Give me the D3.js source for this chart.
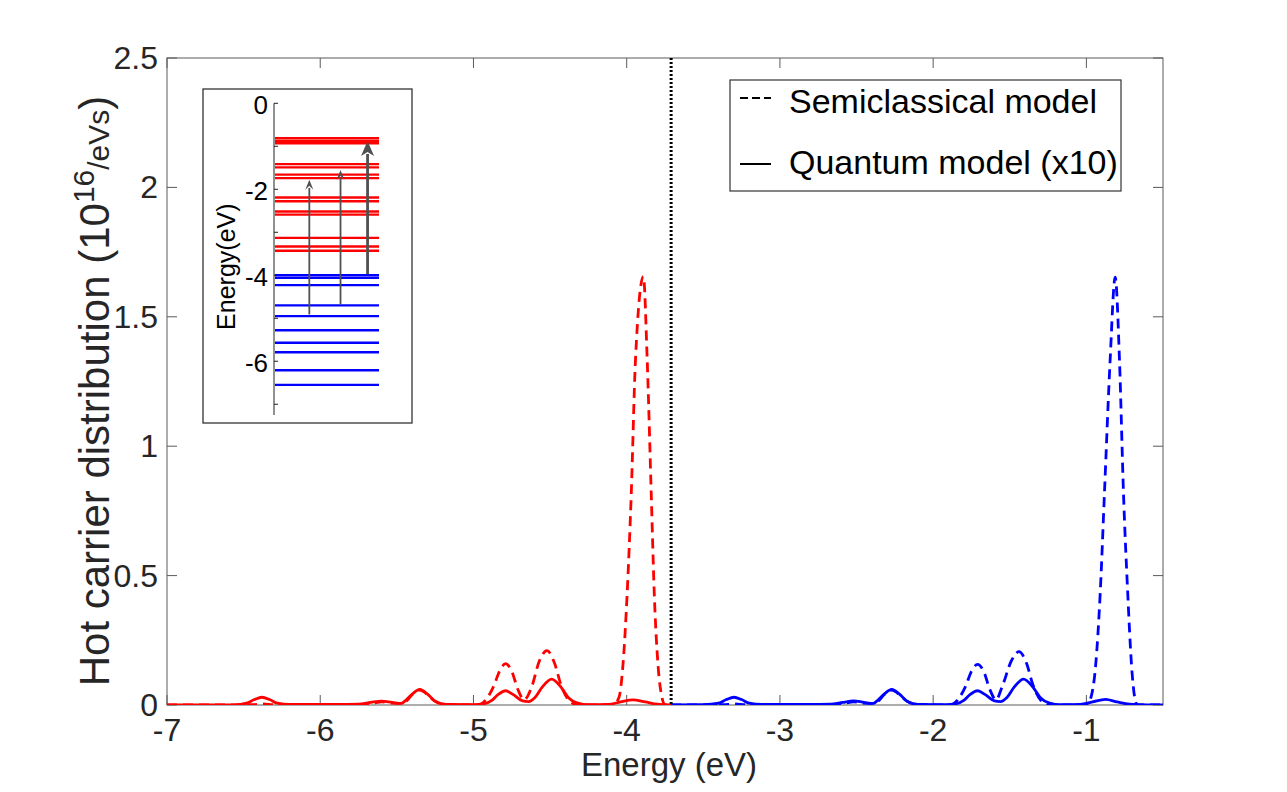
<!DOCTYPE html>
<html>
<head>
<meta charset="utf-8">
<script src="https://cdn.jsdelivr.net/npm/d3@7"></script>
<style>
  body { margin: 0; background: #fff; }
  text { font-family: Arial, "Liberation Sans", Helvetica, sans-serif; fill: #262626; }
</style>
</head>
<body>
<svg id="chart" width="1287" height="792"></svg>
<script>

// Main axis ticks
var xTicks = [-7, -6, -5, -4, -3, -2, -1];
var yTicks = [0, 0.5, 1, 1.5, 2, 2.5];
var fermiLevel = -3.71;

// Hot holes (red), [energy eV, value]
var redSemi = [
  [-7, 0], [-6.45, 0.001], [-6.38, 0.004], [-6.30, 0.001], [-5.72, 0.001],
  [-5.65, 0.008], [-5.60, 0.012], [-5.55, 0.008], [-5.47, 0.006],
  [-5.44, 0.014], [-5.40, 0.040], [-5.35, 0.058], [-5.30, 0.040], [-5.25, 0.014], [-5.18, 0.002],
  [-4.97, 0], [-4.92, 0.02], [-4.87, 0.07], [-4.83, 0.13], [-4.79, 0.16], [-4.75, 0.13],
  [-4.71, 0.06], [-4.67, 0.02], [-4.62, 0.07], [-4.57, 0.17], [-4.52, 0.21], [-4.47, 0.16],
  [-4.43, 0.08], [-4.38, 0.02], [-4.32, 0],
  [-4.09, 0], [-4.05, 0.03], [-4.025, 0.15], [-3.997, 0.43], [-3.97, 0.82], [-3.943, 1.33],
  [-3.891, 1.655], [-3.866, 1.33], [-3.84, 0.82], [-3.82, 0.43], [-3.795, 0.15], [-3.77, 0.03],
  [-3.75, 0], [-3.71, 0]
];
var redQuant = [
  [-7, 0], [-6.56, 0], [-6.48, 0.007], [-6.43, 0.021], [-6.38, 0.030], [-6.33, 0.021],
  [-6.28, 0.007], [-6.20, 0.002], [-5.90, 0.002], [-5.75, 0.003], [-5.67, 0.010],
  [-5.60, 0.015], [-5.53, 0.010], [-5.47, 0.006], [-5.45, 0.014], [-5.40, 0.042],
  [-5.35, 0.060], [-5.30, 0.042], [-5.25, 0.015], [-5.18, 0.002], [-5.00, 0.001],
  [-4.93, 0.005], [-4.88, 0.018], [-4.84, 0.040], [-4.79, 0.055], [-4.74, 0.040],
  [-4.68, 0.016], [-4.64, 0.013], [-4.60, 0.028], [-4.55, 0.070], [-4.49, 0.100],
  [-4.43, 0.070], [-4.38, 0.028], [-4.32, 0.007], [-4.25, 0.001], [-4.12, 0.002],
  [-4.04, 0.012], [-3.96, 0.020], [-3.88, 0.012], [-3.80, 0.003], [-3.71, 0]
];

// Hot electrons (blue)
var blueSemi = [
  [-3.71, 0], [-3.37, 0.001], [-3.30, 0.004], [-3.22, 0.001], [-2.64, 0.001],
  [-2.57, 0.008], [-2.52, 0.012], [-2.47, 0.008], [-2.39, 0.006],
  [-2.36, 0.014], [-2.32, 0.040], [-2.27, 0.058], [-2.22, 0.040], [-2.17, 0.014], [-2.10, 0.002],
  [-1.89, 0], [-1.84, 0.02], [-1.79, 0.07], [-1.75, 0.13], [-1.71, 0.157], [-1.67, 0.13],
  [-1.63, 0.06], [-1.59, 0.02], [-1.55, 0.07], [-1.49, 0.17], [-1.44, 0.206], [-1.39, 0.16],
  [-1.35, 0.08], [-1.30, 0.02], [-1.24, 0],
  [-1.00, 0], [-0.97, 0.03], [-0.94, 0.15], [-0.91, 0.43], [-0.882, 0.82], [-0.845, 1.333],
  [-0.812, 1.653], [-0.784, 1.333], [-0.758, 0.82], [-0.73, 0.43], [-0.705, 0.15], [-0.685, 0.03],
  [-0.667, 0], [-0.5, 0]
];
var blueQuant = [
  [-3.71, 0], [-3.50, 0.001], [-3.40, 0.007], [-3.35, 0.021], [-3.30, 0.030], [-3.25, 0.021],
  [-3.20, 0.007], [-3.12, 0.002], [-2.82, 0.002], [-2.67, 0.003], [-2.59, 0.010],
  [-2.52, 0.016], [-2.45, 0.010], [-2.39, 0.006], [-2.37, 0.014], [-2.32, 0.042],
  [-2.27, 0.060], [-2.22, 0.042], [-2.17, 0.015], [-2.10, 0.002], [-1.92, 0.001],
  [-1.85, 0.005], [-1.80, 0.018], [-1.76, 0.040], [-1.71, 0.055], [-1.66, 0.040],
  [-1.60, 0.016], [-1.56, 0.013], [-1.52, 0.028], [-1.47, 0.070], [-1.41, 0.100],
  [-1.35, 0.070], [-1.30, 0.028], [-1.24, 0.007], [-1.17, 0.001], [-1.04, 0.002],
  [-0.96, 0.012], [-0.875, 0.022], [-0.80, 0.012], [-0.72, 0.003], [-0.60, 0], [-0.5, 0]
];

// Inset: energy levels (eV)
var insetTicks = [0, -1, -2, -3, -4, -5, -6, -7];
var insetLabels = [0, -2, -4, -6];
var redLevels = [-0.81, -0.87, -0.93, -1.415, -1.49, -1.66, -1.74, -2.19, -2.28,
                 -2.515, -2.59, -3.13, -3.33, -3.43];
var blueLevels = [-4.0, -4.06, -4.23, -4.70, -4.95, -5.28, -5.57, -5.79, -6.21, -6.55];
var arrowFrom = [-4.91, -4.68, -3.97];
var arrowTo   = [-1.78, -1.55, -0.875];
var arrowPos  = [0.33, 0.63, 0.89];

var svg = d3.select('#chart');
var margin = {left: 167, right: 1163, top: 58, bottom: 705};

var x = d3.scaleLinear().domain([-7, -0.5]).range([margin.left, margin.right]);
var y = d3.scaleLinear().domain([0, 2.5]).range([margin.bottom, margin.top]);

svg.append('defs').append('clipPath').attr('id', 'plotclip')
  .append('rect')
  .attr('x', margin.left).attr('y', margin.top)
  .attr('width', margin.right - margin.left).attr('height', margin.bottom - margin.top);

// Box and inward ticks on all four sides
var axisColor = '#5a5a5a';
var tickLen = 10;
svg.append('rect')
  .attr('x', margin.left).attr('y', margin.top)
  .attr('width', margin.right - margin.left).attr('height', margin.bottom - margin.top)
  .attr('fill', 'none').attr('stroke', axisColor).attr('stroke-width', 1);

xTicks.forEach(function(t){
  svg.append('line').attr('x1', x(t)).attr('x2', x(t))
    .attr('y1', margin.bottom).attr('y2', margin.bottom - tickLen)
    .attr('stroke', axisColor);
  svg.append('line').attr('x1', x(t)).attr('x2', x(t))
    .attr('y1', margin.top).attr('y2', margin.top + tickLen)
    .attr('stroke', axisColor);
  svg.append('text').attr('x', x(t)).attr('y', 741)
    .attr('text-anchor', 'middle').attr('font-size', 32).text(t);
});

yTicks.forEach(function(t){
  svg.append('line').attr('x1', margin.left).attr('x2', margin.left + tickLen)
    .attr('y1', y(t)).attr('y2', y(t)).attr('stroke', axisColor);
  svg.append('line').attr('x1', margin.right).attr('x2', margin.right - tickLen)
    .attr('y1', y(t)).attr('y2', y(t)).attr('stroke', axisColor);
  svg.append('text').attr('x', 158).attr('y', y(t) + 11)
    .attr('text-anchor', 'end').attr('font-size', 32).text(t);
});

// Axis labels
svg.append('text').attr('x', (margin.left + margin.right) / 2 + 4).attr('y', 776)
  .attr('text-anchor', 'middle').attr('font-size', 33).text('Energy (eV)');

var ylab = svg.append('text')
  .attr('transform', 'translate(109,391) rotate(-90)')
  .attr('text-anchor', 'middle').attr('font-size', 42);
ylab.append('tspan').text('Hot carrier distribution (10');
ylab.append('tspan').attr('font-size', 30).attr('dy', -15).text('16');
ylab.append('tspan').attr('font-size', 30).attr('dy', 15).text('/eVs');
ylab.append('tspan').text(')');

// Curves
var line = d3.line()
  .x(function(d){ return x(d[0]); })
  .y(function(d){ return y(d[1]); })
  .curve(d3.curveMonotoneX);

var plot = svg.append('g').attr('clip-path', 'url(#plotclip)');

var series = [
  {data: redSemi,   color: '#ff0000', dash: '10,6'},
  {data: blueSemi,  color: '#0000ff', dash: '10,6'},
  {data: redQuant,  color: '#ff0000', dash: null},
  {data: blueQuant, color: '#0000ff', dash: null}
];
series.forEach(function(s){
  plot.append('path').datum(s.data)
    .attr('d', line)
    .attr('fill', 'none')
    .attr('stroke', s.color)
    .attr('stroke-width', 2.8)
    .attr('stroke-dasharray', s.dash);
});

// Fermi level (dotted)
plot.append('line')
  .attr('x1', x(fermiLevel)).attr('x2', x(fermiLevel))
  .attr('y1', margin.top).attr('y2', margin.bottom)
  .attr('stroke', '#000').attr('stroke-width', 3)
  .attr('stroke-dasharray', '2,2');

// Legend
var leg = svg.append('g');
leg.append('rect').attr('x', 730).attr('y', 80).attr('width', 391).attr('height', 111)
  .attr('fill', '#fff').attr('stroke', '#333').attr('stroke-width', 1.2);
var legItems = [
  {label: 'Semiclassical model', dash: '8,4', ly: 98, ty: 113},
  {label: 'Quantum model (x10)', dash: null, ly: 164, ty: 174}
];
legItems.forEach(function(d){
  leg.append('line').attr('x1', 740).attr('x2', 771).attr('y1', d.ly).attr('y2', d.ly)
    .attr('stroke', '#000').attr('stroke-width', 2).attr('stroke-dasharray', d.dash);
  leg.append('text').attr('x', 789).attr('y', d.ty).attr('font-size', 34)
    .style('fill', '#000').text(d.label);
});

// Inset: energy level diagram
var inset = svg.append('g');
inset.append('rect').attr('x', 203).attr('y', 89).attr('width', 209).attr('height', 334)
  .attr('fill', '#fff').attr('stroke', '#333').attr('stroke-width', 1.3);

var iy = d3.scaleLinear().domain([-7.25, 0]).range([415, 103.3]);
var ix = d3.scaleLinear().domain([0, 1]).range([275, 379]);

inset.append('line').attr('x1', ix(0) - 1).attr('x2', ix(0) - 1)
  .attr('y1', iy(0)).attr('y2', iy(-7.25)).attr('stroke', '#222').attr('stroke-width', 1);
insetTicks.forEach(function(t){
  inset.append('line').attr('x1', ix(0) - 1).attr('x2', ix(0) + 3)
    .attr('y1', iy(t)).attr('y2', iy(t)).attr('stroke', '#222');
});
insetLabels.forEach(function(t){
  inset.append('text').attr('x', 268).attr('y', iy(t) + 11)
    .attr('text-anchor', 'end').attr('font-size', 26).style('fill', '#000').text(t);
});
inset.append('text')
  .attr('transform', 'translate(235,' + iy(-3.8) + ') rotate(-90)')
  .attr('text-anchor', 'middle').attr('font-size', 25).style('fill', '#000').text('Energy(eV)');

inset.selectAll('line.red').data(redLevels).enter().append('line')
  .attr('class', 'red')
  .attr('x1', ix(0)).attr('x2', ix(1))
  .attr('y1', function(d){ return iy(d); }).attr('y2', function(d){ return iy(d); })
  .attr('stroke', '#ff0000').attr('stroke-width', 2.4);
inset.selectAll('line.blue').data(blueLevels).enter().append('line')
  .attr('class', 'blue')
  .attr('x1', ix(0)).attr('x2', ix(1))
  .attr('y1', function(d){ return iy(d); }).attr('y2', function(d){ return iy(d); })
  .attr('stroke', '#0000ff').attr('stroke-width', 2.4);

// Excitation arrows
arrowPos.forEach(function(p, i){
  var big = i === 2;
  var hw = big ? 6.5 : 4, hl = big ? 15 : 10;
  var ax = ix(p), y0 = iy(arrowFrom[i]), y1 = iy(arrowTo[i]);
  inset.append('line').attr('x1', ax).attr('x2', ax)
    .attr('y1', y0).attr('y2', y1 + hl - 2)
    .attr('stroke', '#505050').attr('stroke-width', big ? 2.8 : 1.8);
  inset.append('path')
    .attr('d', 'M' + ax + ',' + y1 + 'L' + (ax - hw) + ',' + (y1 + hl) +
               'L' + ax + ',' + (y1 + hl - 4) + 'L' + (ax + hw) + ',' + (y1 + hl) + 'Z')
    .attr('fill', '#505050');
});

</script>
</body>
</html>
